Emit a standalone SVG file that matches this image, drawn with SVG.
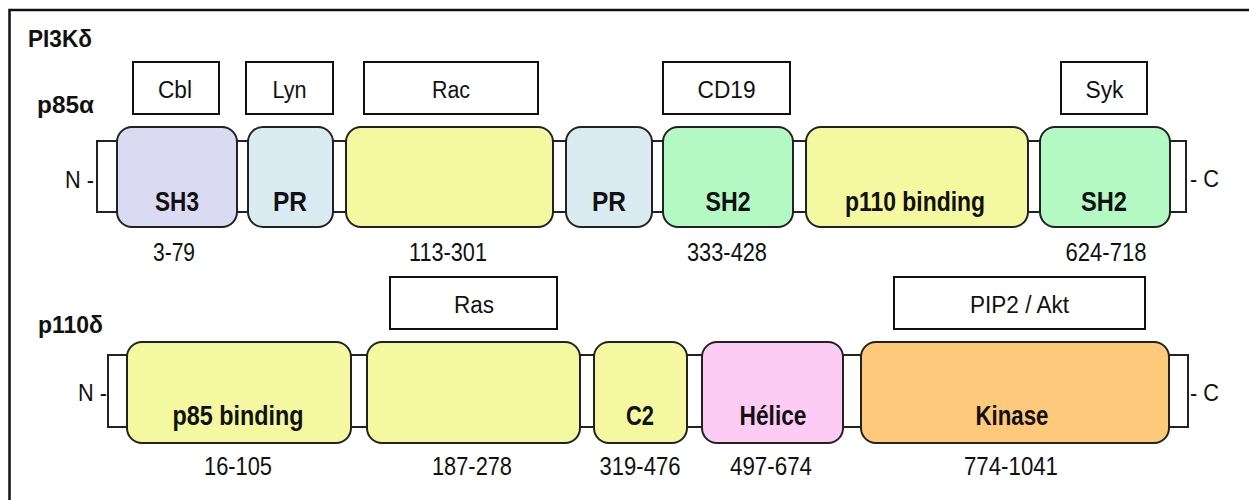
<svg xmlns="http://www.w3.org/2000/svg" width="1249" height="500" viewBox="0 0 1249 500">
<style>
.bg{fill:#ffffff}
.frame{fill:none;stroke:#111;stroke-width:2.5}
.bb{fill:#ffffff;stroke:#222;stroke-width:2}
.dom{stroke:#222;stroke-width:2}
.lbl{fill:#ffffff;stroke:#111;stroke-width:2}
.t{font-family:"Liberation Sans",Arial,sans-serif;fill:#111;text-anchor:middle}
.r{font-size:23px}
.n{font-size:26px}
.b{font-size:28px;font-weight:bold}
.h{font-family:"Liberation Sans",Arial,sans-serif;font-size:23px;font-weight:bold;fill:#111}
.yel{fill:#F4F8A0}.sh3{fill:#DADAF2}.pr{fill:#DAECF2}.sh2{fill:#B4F8C4}.pink{fill:#FDCCF5}.org{fill:#FEC97A}
</style>
<rect class="bg" x="0" y="0" width="1249" height="500"/>
<rect class="frame" x="9.5" y="10" width="1262" height="510"/>
<text class="h" x="28" y="47" textLength="64" lengthAdjust="spacingAndGlyphs">PI3Kδ</text>
<text class="h" x="37" y="113" textLength="57" lengthAdjust="spacingAndGlyphs">p85α</text>
<text class="h" x="38" y="333" textLength="65" lengthAdjust="spacingAndGlyphs">p110δ</text>
<g id="connectors">
<rect class="bb" x="97" y="141" width="1089" height="71"/>
<rect class="bb" x="108" y="355" width="1080" height="72"/>
</g>
<text class="t r" x="79.5" y="188" textLength="29" lengthAdjust="spacingAndGlyphs">N -</text>
<text class="t r" x="1204.5" y="187" textLength="29" lengthAdjust="spacingAndGlyphs">- C</text>
<text class="t r" x="92.5" y="401" textLength="29" lengthAdjust="spacingAndGlyphs">N -</text>
<text class="t r" x="1204.5" y="401" textLength="29" lengthAdjust="spacingAndGlyphs">- C</text>
<g id="lbl-cbl"><rect class="lbl" x="133" y="62" width="86" height="52"/><text class="t r" x="175" y="98" textLength="34" lengthAdjust="spacingAndGlyphs">Cbl</text></g>
<g id="lbl-lyn"><rect class="lbl" x="246" y="62" width="87" height="52"/><text class="t r" x="289.5" y="98" textLength="34" lengthAdjust="spacingAndGlyphs">Lyn</text></g>
<g id="lbl-rac"><rect class="lbl" x="364" y="62" width="174" height="52"/><text class="t r" x="451" y="98" textLength="38" lengthAdjust="spacingAndGlyphs">Rac</text></g>
<g id="lbl-cd19"><rect class="lbl" x="663" y="62" width="127" height="52"/><text class="t r" x="726.5" y="98" textLength="58" lengthAdjust="spacingAndGlyphs">CD19</text></g>
<g id="lbl-syk"><rect class="lbl" x="1061" y="62" width="86" height="52"/><text class="t r" x="1104.5" y="98" textLength="38" lengthAdjust="spacingAndGlyphs">Syk</text></g>
<g id="d-sh3"><rect class="dom sh3" x="117" y="127" width="120" height="100" rx="15"/><text class="t b" x="177" y="211" textLength="44" lengthAdjust="spacingAndGlyphs">SH3</text><text class="t n" x="174" y="261" textLength="42" lengthAdjust="spacingAndGlyphs">3-79</text></g>
<g id="d-pr1"><rect class="dom pr" x="248" y="127" width="85" height="100" rx="15"/><text class="t b" x="290" y="211" textLength="34" lengthAdjust="spacingAndGlyphs">PR</text></g>
<g id="d-rac"><rect class="dom yel" x="346" y="127" width="207" height="100" rx="15"/><text class="t n" x="448" y="261" textLength="78" lengthAdjust="spacingAndGlyphs">113-301</text></g>
<g id="d-pr2"><rect class="dom pr" x="566" y="127" width="86" height="100" rx="15"/><text class="t b" x="609" y="211" textLength="34" lengthAdjust="spacingAndGlyphs">PR</text></g>
<g id="d-sh2a"><rect class="dom sh2" x="663" y="127" width="130" height="100" rx="15"/><text class="t b" x="728" y="211" textLength="45" lengthAdjust="spacingAndGlyphs">SH2</text><text class="t n" x="727" y="261" textLength="80" lengthAdjust="spacingAndGlyphs">333-428</text></g>
<g id="d-p110b"><rect class="dom yel" x="806" y="127" width="222" height="100" rx="15"/><text class="t b" x="915" y="211" textLength="140" lengthAdjust="spacingAndGlyphs">p110 binding</text></g>
<g id="d-sh2b"><rect class="dom sh2" x="1040" y="127" width="130" height="100" rx="15"/><text class="t b" x="1104" y="211" textLength="46" lengthAdjust="spacingAndGlyphs">SH2</text><text class="t n" x="1106" y="261" textLength="81" lengthAdjust="spacingAndGlyphs">624-718</text></g>
<g id="lbl-ras"><rect class="lbl" x="390" y="277" width="167" height="52"/><text class="t r" x="474" y="313" textLength="40" lengthAdjust="spacingAndGlyphs">Ras</text></g>
<g id="lbl-pip2"><rect class="lbl" x="894" y="277" width="251" height="52"/><text class="t r" x="1019.5" y="313" textLength="99" lengthAdjust="spacingAndGlyphs">PIP2 / Akt</text></g>
<g id="d-p85b"><rect class="dom yel" x="127" y="342" width="224" height="101" rx="15"/><text class="t b" x="238" y="425" textLength="131" lengthAdjust="spacingAndGlyphs">p85 binding</text><text class="t n" x="238" y="475" textLength="68" lengthAdjust="spacingAndGlyphs">16-105</text></g>
<g id="d-rasbd"><rect class="dom yel" x="367" y="342" width="213" height="101" rx="15"/><text class="t n" x="472" y="475" textLength="80" lengthAdjust="spacingAndGlyphs">187-278</text></g>
<g id="d-c2"><rect class="dom yel" x="594" y="342" width="93" height="101" rx="15"/><text class="t b" x="640" y="425" textLength="28" lengthAdjust="spacingAndGlyphs">C2</text><text class="t n" x="640" y="475" textLength="81" lengthAdjust="spacingAndGlyphs">319-476</text></g>
<g id="d-helice"><rect class="dom pink" x="702" y="342" width="141" height="101" rx="15"/><text class="t b" x="773" y="425" textLength="67" lengthAdjust="spacingAndGlyphs">Hélice</text><text class="t n" x="771" y="475" textLength="82" lengthAdjust="spacingAndGlyphs">497-674</text></g>
<g id="d-kinase"><rect class="dom org" x="861" y="342" width="308" height="101" rx="15"/><text class="t b" x="1012" y="425" textLength="73" lengthAdjust="spacingAndGlyphs">Kinase</text><text class="t n" x="1011" y="475" textLength="94" lengthAdjust="spacingAndGlyphs">774-1041</text></g>
</svg>
